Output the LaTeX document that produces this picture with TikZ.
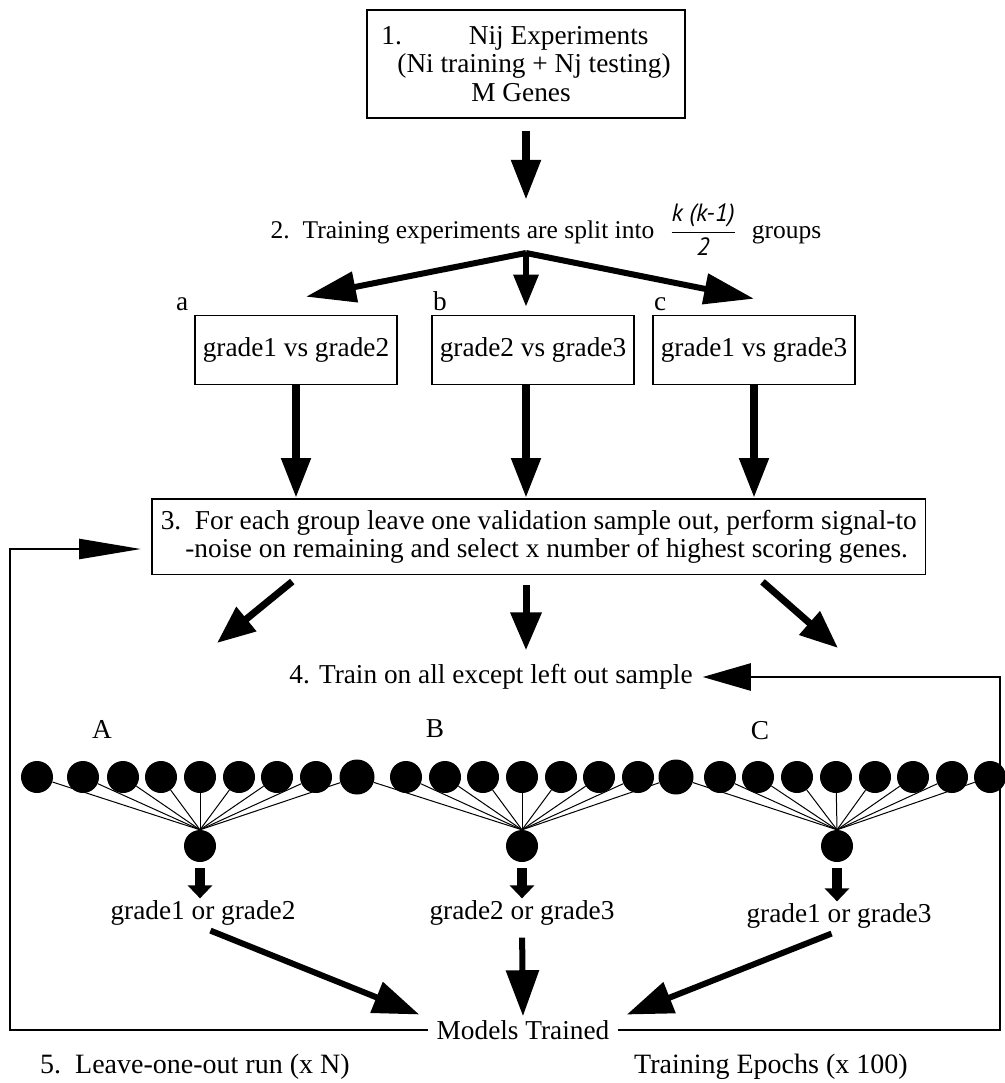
\documentclass[tikz,border=0pt]{standalone}
\usepackage{fontspec}
\setmainfont{Liberation Serif}
\newfontfamily\fracfont{PT Sans}
\usetikzlibrary{positioning,arrows.meta}
\newcommand\bodyfont{\fontsize{27.3}{28.5}\selectfont}
\newcommand\headfont{\fontsize{25.5}{28}\selectfont}
\newcommand\notefont{\fontsize{28}{30}\selectfont}
\newcommand\fracpart[1]{\hbox{\fontsize{25}{26}\selectfont\fracfont\itshape #1}}
\tikzset{
  box/.style={draw,line width=1.6pt,align=center,font=\bodyfont,inner xsep=8pt,inner ysep=9pt},
  plain/.style={font=\bodyfont,inner sep=2pt},
  note/.style={font=\notefont,inner sep=2pt},
  neuron/.style={circle,fill=black,inner sep=0pt,minimum size=32pt},
  wire/.style={line width=1pt},
  fatdown/.style={line width=8pt,-{Triangle[length=40pt,width=28pt]}},
  fork/.style={line width=6pt,-{Triangle[length=50pt,width=30pt]}},
  forkmid/.style={line width=6pt,-{Triangle[length=32pt,width=24pt]}},
  diag/.style={line width=7pt,-{Triangle[length=38pt,width=30pt]}},
  stub/.style={line width=10pt,-{Triangle[length=13pt,width=24pt]}},
  merge/.style={line width=6pt,-{Triangle[length=46pt,width=32pt]}},
  backline/.style={line width=2.5pt,-{Triangle[length=62pt,width=20pt]}},
  backline2/.style={line width=2.5pt,-{Triangle[length=48pt,width=27pt]}}
}
\begin{document}
\begin{tikzpicture}[x=1pt,y=-1pt]
  \useasboundingbox (0,0) rectangle (1004,1083);
  % step 1 and 2
  \node[box,align=left,minimum width=318pt,minimum height=108pt,inner xsep=9pt] (genes) at (526,64)
    {1.\hspace{67pt}Nij Experiments\\\hspace{16pt}(Ni training + Nj testing)\\\hspace{90pt}M Genes};
  \node[plain,font=\headfont] (split) at (546,230) {2.\ \ Training experiments are split into\hspace{16pt}%
    $\displaystyle\frac{\fracpart{k (k-1)}}{\fracpart{2}}$%
    \hspace{16pt}groups};
  \draw[fatdown,shorten <=12pt,shorten >=2pt] (genes.south) -- (genes.south |- split.north);
  \coordinate (forkpt) at (526,253);
  % the three groups
  \node[box,minimum width=197pt,minimum height=69pt] (grpa) at (296,350) {grade1 vs grade2};
  \node[box,minimum width=196pt,minimum height=69pt] (grpb) at (533,350) {grade2 vs grade3};
  \node[box,minimum width=197pt,minimum height=69pt] (grpc) at (754,350) {grade1 vs grade3};
  \node[plain,anchor=south west] (lbla) at ([xshift=-20pt,yshift=2pt]grpa.north west) {a};
  \node[plain,anchor=south west] (lblb) at ([xshift=0pt,yshift=2pt]grpb.north west) {b};
  \node[plain,anchor=south west] (lblc) at ([xshift=0pt,yshift=2pt]grpc.north west) {c};
  \draw[fork] (forkpt) -- ([xshift=10pt,yshift=18pt]grpa.north);
  \draw[forkmid] (forkpt) -- ([yshift=8pt]grpb.north -| forkpt);
  \draw[fork] (forkpt) -- ([yshift=16pt]grpc.north);
  % step 3
  \node[box,align=left,anchor=north west,inner xsep=9pt,inner ysep=11pt] (select) at (151,498)
    {3.\ \ For each group leave one validation sample out, perform signal-to\\
     \hspace{0.9em}-noise on remaining and select x number of highest scoring genes.};
  \draw[fatdown] (grpa.south) -- (grpa.south |- select.north);
  \draw[fatdown] (grpb.south -| forkpt) -- (forkpt |- select.north);
  \draw[fatdown] (grpc.south) -- (grpc.south |- select.north);
  % step 4
  \node[plain] (train) at (491,677) {4. Train on all except left out sample};
  \coordinate (tipa) at (217,643);
  \coordinate (tipc) at (838,648);
  \draw[diag,shorten <=10pt] (select.south -| 300,0) -- (tipa);
  \draw[diag,shorten <=10pt,shorten >=12pt] (select.south -| forkpt) -- (train.north -| forkpt);
  \draw[diag,shorten <=10pt] (select.south -| 755,0) -- (tipc);
  \node[plain] (nameA) at (102,729) {A};
  \node[plain] (nameB) at (435,729) {B};
  \node[plain] (nameC) at (760,731) {C};
  % input layer
  \foreach \x/\s [count=\i] in {37/32,83/32,123/32,161/32,200/32,239/32,277/32,316/32,357/35,
      406/32,445/32,483/32,522/32,561/32,599/32,638/32,676/35,
      720/32,758/32,797/32,836/32,875/32,913/32,952/32,990/32}
    \node[neuron,minimum size=\s pt] (in\i) at (\x,777) {};
  \node[neuron] (hubA) at (200,846) {};
  \node[neuron] (hubB) at (522,846) {};
  \node[neuron] (hubC) at (837,846) {};
  \foreach \i in {1,...,9} \draw[wire] (in\i) -- (hubA.north);
  \foreach \i in {9,...,17} \draw[wire] (in\i) -- (hubB.north);
  \foreach \i in {17,...,25} \draw[wire] (in\i) -- (hubC.north);
  % outputs
  \node[plain] (resA) at (203,913) {grade1 or grade2};
  \node[plain] (resB) at (522,913) {grade2 or grade3};
  \node[plain] (resC) at (839,916) {grade1 or grade3};
  \draw[stub,shorten <=6pt] (hubA.south) -- (hubA.south |- resA.north);
  \draw[stub,shorten <=6pt] (hubB.south) -- (hubB.south |- resB.north);
  \draw[stub,shorten <=6pt] (hubC.south) -- (hubC.south |- resC.north);
  % step 5
  \node[plain,inner xsep=8pt] (models) at (523,1030) {Models Trained};
  \draw[merge,shorten <=8pt,shorten >=10pt] (resA.south) -- (models.north west);
  \draw[merge,shorten <=10pt,shorten >=2pt] (resB.south) -- (models.north);
  \draw[merge,shorten <=8pt,shorten >=10pt] (resC.south) -- (models.north east);
  \coordinate (backl) at (10,549);
  \coordinate (backr) at (1000,677);
  \draw[backline,shorten >=10pt] (models.west) -| (backl) -- (select.west |- backl);
  \draw[backline2,shorten >=8pt] (models.east) -| (backr) -- (train.east);
  \node[note,anchor=west] (loo) at (38,1067) {5.\ \ Leave-one-out run (x N)};
  \node[note,anchor=west] (epochs) at (632,1067) {Training Epochs (x 100)};
\end{tikzpicture}
\end{document}
